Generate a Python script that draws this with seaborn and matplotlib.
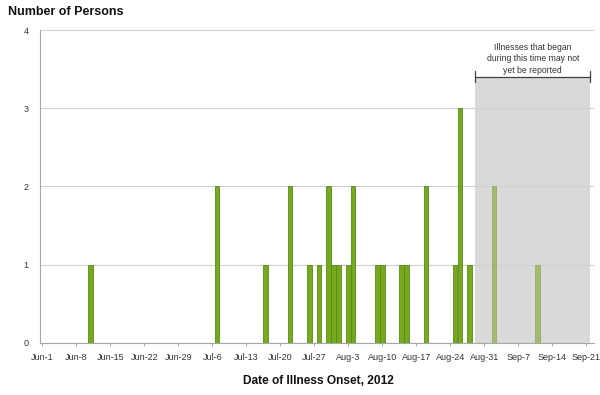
import matplotlib
matplotlib.use("Agg")
import matplotlib.pyplot as plt
import seaborn as sns
import pandas as pd

# Days since Jun-1, 2012 and case counts
reported_days = [10, 36, 46, 51, 55, 57, 59, 60, 61, 63, 64, 69, 70, 74, 75, 79, 85, 86, 88]
reported_counts = [1, 2, 1, 2, 1, 1, 2, 1, 1, 1, 2, 1, 1, 1, 1, 2, 1, 3, 1]
pending_days = [93, 102]
pending_counts = [2, 1]

tick_days = [0, 7, 14, 21, 28, 35, 42, 49, 56, 63, 70, 77, 84, 91, 98, 105, 112]
tick_labels = ["Jun-1", "Jun-8", "Jun-15", "Jun-22", "Jun-29", "Jul-6", "Jul-13", "Jul-20",
               "Jul-27", "Aug-3", "Aug-10", "Aug-17", "Aug-24", "Aug-31", "Sep-7", "Sep-14", "Sep-21"]
y_ticks = [0, 1, 2, 3, 4]

shade_start, shade_end, shade_top = 89.2, 112.8, 3.4

sns.set_theme(style="white")
plt.rcParams["font.family"] = ["Liberation Sans", "DejaVu Sans"]

fig = plt.figure(figsize=(6, 3.95), dpi=100)
ax = fig.add_axes([0.066, 0.132, 0.924, 0.792])

# shaded region
ax.fill_between([shade_start, shade_end], 0, shade_top, color="#d9d9d9", zorder=0, linewidth=0)

df = pd.DataFrame({
    "day": reported_days + pending_days,
    "n": reported_counts + pending_counts,
    "status": ["Reported"] * len(reported_days) + ["Pending"] * len(pending_days),
})
sns.barplot(data=df, x="day", y="n", hue="status", native_scale=True, dodge=False,
            width=0.97, palette={"Reported": "#76a91e", "Pending": "#a3ba72"},
            saturation=1, linewidth=0.6, edgecolor="#5a8a18", ax=ax, zorder=3,
            errorbar=None, legend=False)
for p in ax.patches:
    if p.get_x() > shade_start:
        p.set_edgecolor("#93ad62")

ax.set_xlim(-0.55, 113.6)
ax.set_ylim(0, 4)
ax.set_yticks(y_ticks)
ax.set_yticklabels([str(v) for v in y_ticks], fontsize=6.5, color="#333333")
ax.set_xticks(tick_days)
ax.set_xticklabels(tick_labels, fontsize=6.5, color="#333333")
ax.tick_params(axis="x", length=2, width=0.6, color="#999999", pad=5, bottom=True)
ax.tick_params(axis="y", length=0, pad=8)
ax.yaxis.grid(True, color="#d0d0d0", linewidth=0.8, zorder=1)
ax.set_axisbelow(True)
for s in ["top", "right"]:
    ax.spines[s].set_visible(False)
for s in ["left", "bottom"]:
    ax.spines[s].set_color("#a6a6a6")
    ax.spines[s].set_linewidth(0.8)
ax.set_xlabel("")
ax.set_ylabel("")

# bracket
ax.plot([shade_start, shade_end], [shade_top, shade_top], color="#404040", lw=0.9, zorder=4, clip_on=False)
for xx in [shade_start, shade_end]:
    ax.plot([xx, xx], [shade_top - 0.07, shade_top + 0.07], color="#404040", lw=0.9, zorder=4, clip_on=False)
ax.text((shade_start + shade_end) / 2, shade_top + 0.03,
        "Illnesses that began\nduring this time may not\nyet be reported",
        ha="center", va="bottom", fontsize=6.2, color="#333333", linespacing=1.3)

fig.text(0.013, 0.97, "Number of Persons", fontsize=9, fontweight="bold", ha="left", va="center", color="#111111")
fig.text(0.531, 0.036, "Date of Illness Onset, 2012", fontsize=8.6, fontweight="bold", ha="center", va="center", color="#111111")

fig.savefig("out.png", dpi=100)
